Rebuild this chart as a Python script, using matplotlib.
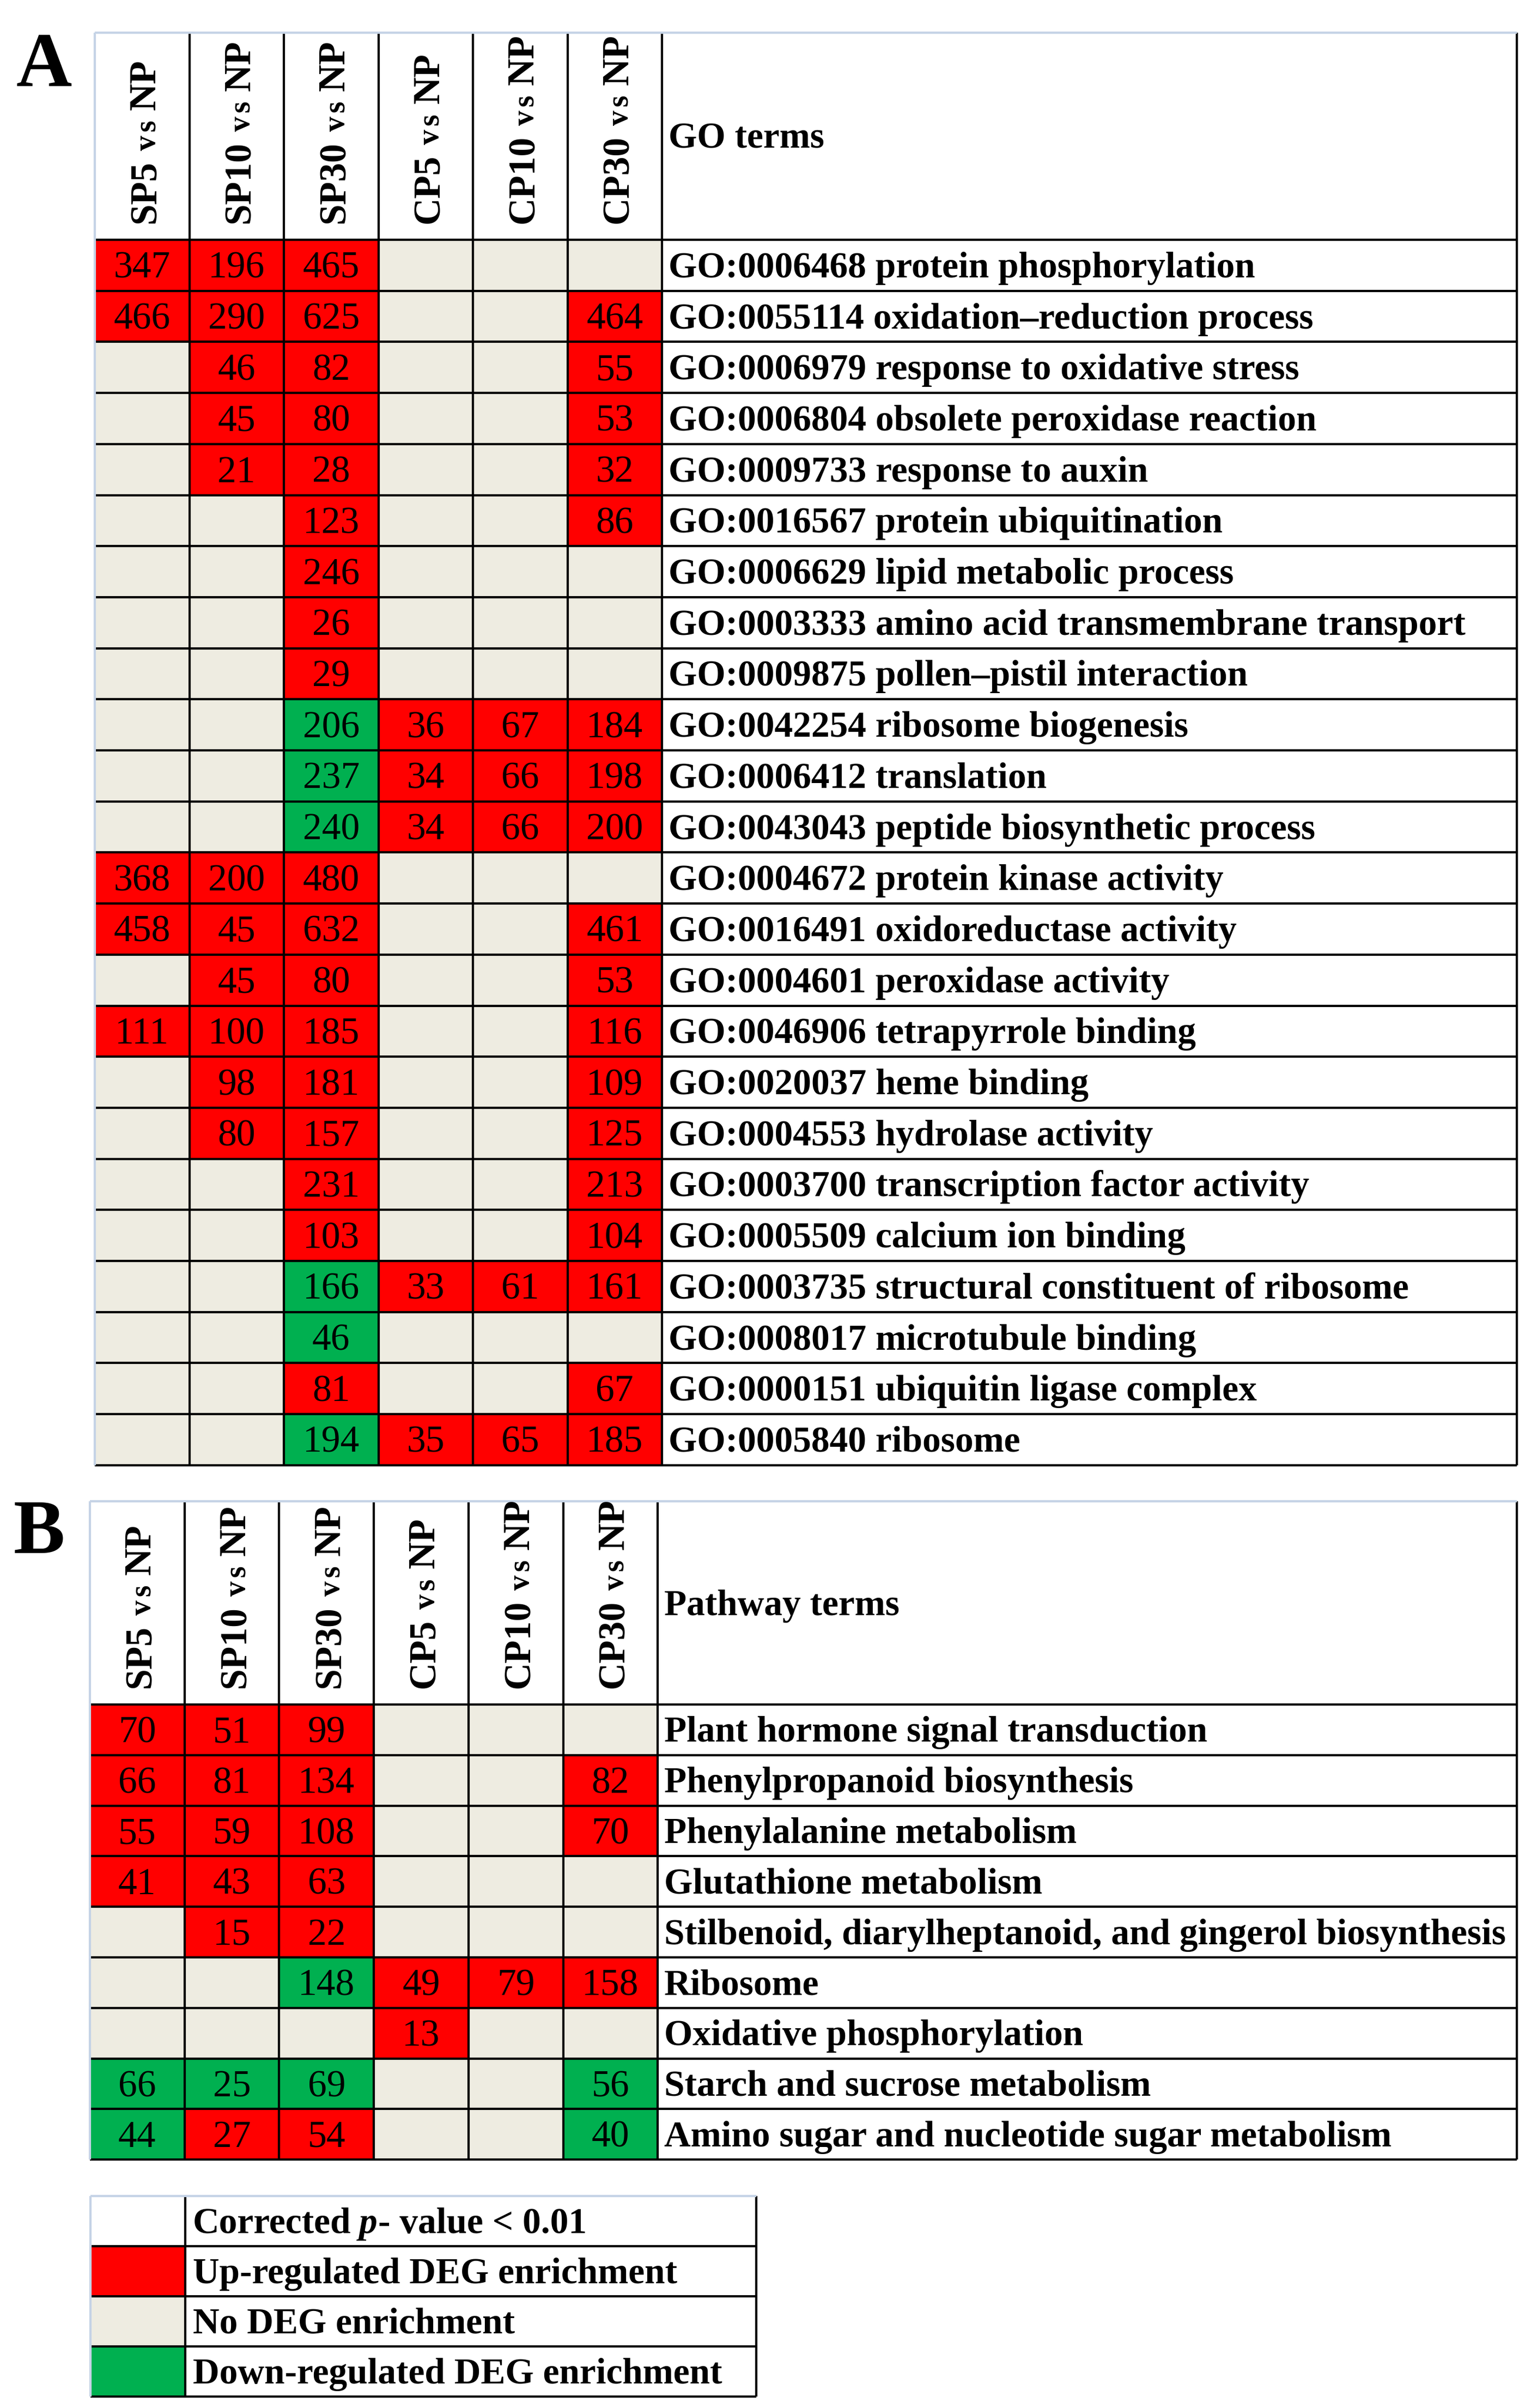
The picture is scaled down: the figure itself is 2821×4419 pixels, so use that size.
import matplotlib
matplotlib.use("Agg")
import matplotlib.pyplot as plt
from matplotlib.patches import Rectangle

# ---- data ----
comparisons = ["SP5", "SP10", "SP30", "CP5", "CP10", "CP30"]
reference = "NP"

go_terms = [
    "GO:0006468 protein phosphorylation",
    "GO:0055114 oxidation\u2013reduction process",
    "GO:0006979 response to oxidative stress",
    "GO:0006804 obsolete peroxidase reaction",
    "GO:0009733 response to auxin",
    "GO:0016567 protein ubiquitination",
    "GO:0006629 lipid metabolic process",
    "GO:0003333 amino acid transmembrane transport",
    "GO:0009875 pollen\u2013pistil interaction",
    "GO:0042254 ribosome biogenesis",
    "GO:0006412 translation",
    "GO:0043043 peptide biosynthetic process",
    "GO:0004672 protein kinase activity",
    "GO:0016491 oxidoreductase activity",
    "GO:0004601 peroxidase activity",
    "GO:0046906 tetrapyrrole binding",
    "GO:0020037 heme binding",
    "GO:0004553 hydrolase activity",
    "GO:0003700 transcription factor activity",
    "GO:0005509 calcium ion binding",
    "GO:0003735 structural constituent of ribosome",
    "GO:0008017 microtubule binding",
    "GO:0000151 ubiquitin ligase complex",
    "GO:0005840 ribosome",
]
go_counts = [
    [347, 196, 465, None, None, None],
    [466, 290, 625, None, None, 464],
    [None, 46, 82, None, None, 55],
    [None, 45, 80, None, None, 53],
    [None, 21, 28, None, None, 32],
    [None, None, 123, None, None, 86],
    [None, None, 246, None, None, None],
    [None, None, 26, None, None, None],
    [None, None, 29, None, None, None],
    [None, None, 206, 36, 67, 184],
    [None, None, 237, 34, 66, 198],
    [None, None, 240, 34, 66, 200],
    [368, 200, 480, None, None, None],
    [458, 45, 632, None, None, 461],
    [None, 45, 80, None, None, 53],
    [111, 100, 185, None, None, 116],
    [None, 98, 181, None, None, 109],
    [None, 80, 157, None, None, 125],
    [None, None, 231, None, None, 213],
    [None, None, 103, None, None, 104],
    [None, None, 166, 33, 61, 161],
    [None, None, 46, None, None, None],
    [None, None, 81, None, None, 67],
    [None, None, 194, 35, 65, 185],
]
# U = up-regulated, D = down-regulated, N = no enrichment
go_status = [
    "UUUNNN", "UUUNNU", "NUUNNU", "NUUNNU", "NUUNNU", "NNUNNU",
    "NNUNNN", "NNUNNN", "NNUNNN", "NNDUUU", "NNDUUU", "NNDUUU",
    "UUUNNN", "UUUNNU", "NUUNNU", "UUUNNU", "NUUNNU", "NUUNNU",
    "NNUNNU", "NNUNNU", "NNDUUU", "NNDNNN", "NNUNNU", "NNDUUU",
]

pathway_terms = [
    "Plant hormone signal transduction",
    "Phenylpropanoid biosynthesis",
    "Phenylalanine metabolism",
    "Glutathione metabolism",
    "Stilbenoid, diarylheptanoid, and gingerol biosynthesis",
    "Ribosome",
    "Oxidative phosphorylation",
    "Starch and sucrose metabolism",
    "Amino sugar and nucleotide sugar metabolism",
]
pathway_counts = [
    [70, 51, 99, None, None, None],
    [66, 81, 134, None, None, 82],
    [55, 59, 108, None, None, 70],
    [41, 43, 63, None, None, None],
    [None, 15, 22, None, None, None],
    [None, None, 148, 49, 79, 158],
    [None, None, None, 13, None, None],
    [66, 25, 69, None, None, 56],
    [44, 27, 54, None, None, 40],
]
pathway_status = [
    "UUUNNN", "UUUNNU", "UUUNNU", "UUUNNN", "NUUNNN",
    "NNDUUU", "NNNUNN", "DDDNND", "DUUNND",
]

legend_status = ["W", "U", "N", "D"]
legend_labels = [None, "Up-regulated DEG enrichment", "No DEG enrichment",
                 "Down-regulated DEG enrichment"]

# ---- style ----
FILL = {"U": "#FF0000", "D": "#00B050", "N": "#EEECE1", "W": "#FFFFFF"}
EDGE_LIGHT = "#C5D3E6"
SERIF = "Liberation Serif"
LW = 3.0
NUM_SIZE = 50
TERM_SIZE = 48.5
HEAD_SIZE = 50
VS_SIZE = 40

W, H = 2821, 4419
fig = plt.figure(figsize=(W / 100, H / 100), dpi=100)
ax = fig.add_axes([0, 0, 1, 1])
ax.set_xlim(0, W)
ax.set_ylim(H, 0)
ax.axis("off")
renderer = fig.canvas.get_renderer()


def draw_runs(x, y, runs, rotation=0):
    # runs: (text, size, extra kwargs, gap after in px)
    for text, size, kw, gap in runs:
        t = ax.text(x, y, text, fontsize=size, family=SERIF, rotation=rotation,
                    rotation_mode="anchor", ha="left", va="baseline", **kw)
        bb = t.get_window_extent(renderer)
        if rotation == 90:
            y -= bb.height + gap
        else:
            x += bb.width + gap


def draw_panel(left, top, right, head_h, row_h, col_w, counts, status, terms, title):
    n_rows, n_cols = len(terms), len(comparisons)
    body_top = top + head_h
    term_x = left + n_cols * col_w
    bottom = body_top + n_rows * row_h

    for r in range(n_rows):
        y0 = body_top + r * row_h
        for c in range(n_cols):
            ax.add_patch(Rectangle((left + c * col_w, y0), col_w, row_h,
                                   facecolor=FILL[status[r][c]], edgecolor="none"))
            if counts[r][c] is not None:
                ax.text(left + (c + 0.5) * col_w, y0 + row_h / 2 + 23, str(counts[r][c]),
                        ha="center", va="baseline", fontsize=NUM_SIZE, family=SERIF)
        ax.text(term_x + 12, y0 + row_h / 2 + 22, terms[r], ha="left", va="baseline",
                fontsize=TERM_SIZE, weight="bold", family=SERIF)

    bold = {"weight": "bold"}
    for c, name in enumerate(comparisons):
        cx = left + (c + 0.5) * col_w
        draw_runs(cx + 24, body_top - 30,
                  [(name, HEAD_SIZE, bold, 18),
                   ("v", VS_SIZE, bold, 7),
                   ("s", VS_SIZE, bold, 18),
                   (reference, HEAD_SIZE, bold, 0)], rotation=90)
    ax.text(term_x + 12, top + head_h / 2 + 22, title, ha="left", va="baseline",
            fontsize=TERM_SIZE, weight="bold", family=SERIF)

    ys = [body_top + r * row_h for r in range(n_rows + 1)]
    ax.hlines(ys, left, right, color="black", lw=LW)
    xs = [left + c * col_w for c in range(1, n_cols + 1)] + [right]
    ax.vlines(xs, top, bottom, color="black", lw=LW)
    ax.hlines([top], left, right, color=EDGE_LIGHT, lw=LW)
    ax.vlines([left], top, bottom, color=EDGE_LIGHT, lw=LW)


draw_panel(174, 60, 2784, 380, 93.7, 173.5, go_counts, go_status, go_terms, "GO terms")
draw_panel(165, 2755, 2784, 373, 92.8, 173.7, pathway_counts, pathway_status,
           pathway_terms, "Pathway terms")

# panel letters
ax.text(30, 158, "A", fontsize=102, weight="bold", family=SERIF, ha="left", va="baseline")
ax.text(25, 2850, "B", fontsize=102, weight="bold", family=SERIF, ha="left", va="baseline")

# legend
lg_left, lg_mid, lg_right, lg_top, lg_row = 166, 340, 1388, 4030, 92
for i, (st, lab) in enumerate(zip(legend_status, legend_labels)):
    y0 = lg_top + i * lg_row
    ax.add_patch(Rectangle((lg_left, y0), lg_mid - lg_left, lg_row,
                           facecolor=FILL[st], edgecolor="none"))
    ty = y0 + lg_row / 2 + 22
    if lab is None:
        draw_runs(lg_mid + 14, ty,
                  [("Corrected", TERM_SIZE, {"weight": "bold"}, 14),
                   ("p", TERM_SIZE, {"weight": "bold", "style": "italic"}, 2),
                   ("- value < 0.01", TERM_SIZE, {"weight": "bold"}, 0)])
    else:
        ax.text(lg_mid + 14, ty, lab, ha="left", va="baseline", fontsize=TERM_SIZE,
                weight="bold", family=SERIF)
lg_bottom = lg_top + len(legend_status) * lg_row
ax.hlines([lg_top + i * lg_row for i in range(1, len(legend_status) + 1)],
          lg_left, lg_right, color="black", lw=LW)
ax.vlines([lg_mid, lg_right], lg_top, lg_bottom, color="black", lw=LW)
ax.hlines([lg_top], lg_left, lg_right, color=EDGE_LIGHT, lw=LW)
ax.vlines([lg_left], lg_top, lg_bottom, color=EDGE_LIGHT, lw=LW)

fig.savefig("out.png", dpi=100, facecolor="white")
